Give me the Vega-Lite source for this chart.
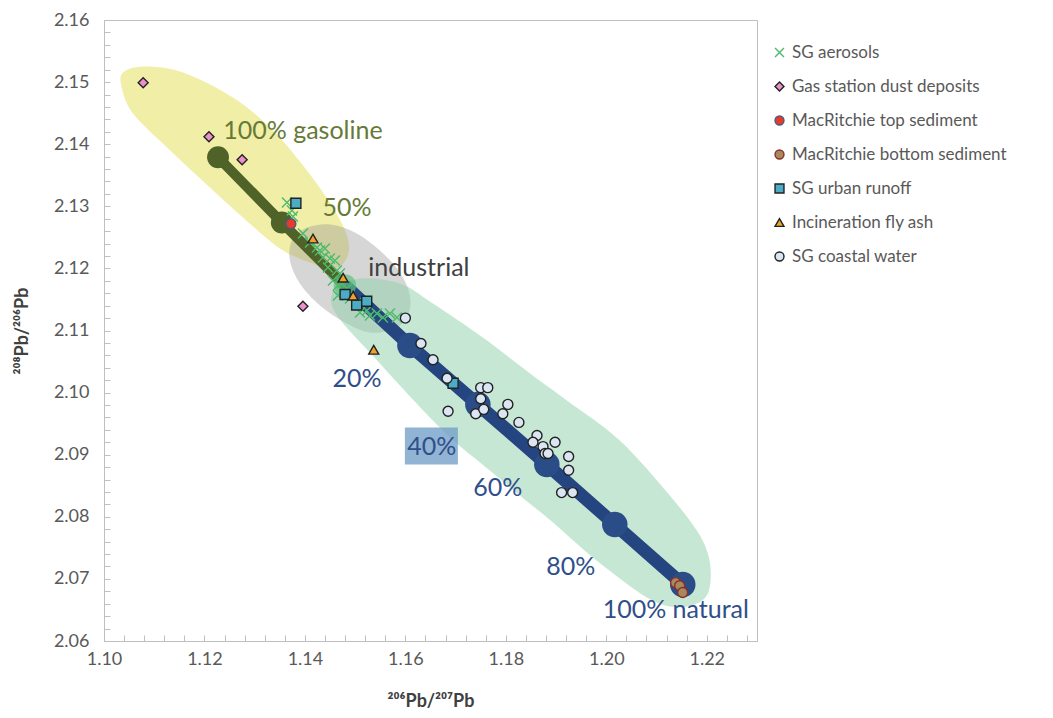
{
  "$schema": "https://vega.github.io/schema/vega-lite/v6.json",
  "width": 653,
  "height": 621,
  "autosize": {"type": "none"},
  "padding": {"left": 104, "top": 20, "right": 296, "bottom": 77},
  "background": "white",
  "config": {
    "view": {"stroke": "#BFBFBF", "strokeWidth": 1},
    "font": "Lato",
    "axis": {"grid": false, "domainColor": "#BFBFBF", "tickColor": "#BFBFBF", "labelColor": "#595959", "labelFont": "Lato", "labelFontSize": 18, "titleFont": "Lato", "titleFontWeight": "bold", "titleColor": "#404040", "titleFontSize": 18}
  },
  "datasets": {
    "poly": [
      {"shape": "gasoline", "o": 1, "x": 1.10378, "y": 2.15155},
      {"shape": "gasoline", "o": 2, "x": 1.10816, "y": 2.15251},
      {"shape": "gasoline", "o": 3, "x": 1.11572, "y": 2.15155},
      {"shape": "gasoline", "o": 4, "x": 1.12567, "y": 2.14752},
      {"shape": "gasoline", "o": 5, "x": 1.13363, "y": 2.14221},
      {"shape": "gasoline", "o": 6, "x": 1.1404, "y": 2.13577},
      {"shape": "gasoline", "o": 7, "x": 1.14557, "y": 2.12981},
      {"shape": "gasoline", "o": 8, "x": 1.14836, "y": 2.1253},
      {"shape": "gasoline", "o": 9, "x": 1.14856, "y": 2.12208},
      {"shape": "gasoline", "o": 10, "x": 1.14597, "y": 2.11998},
      {"shape": "gasoline", "o": 11, "x": 1.141, "y": 2.12095},
      {"shape": "gasoline", "o": 12, "x": 1.13502, "y": 2.1232},
      {"shape": "gasoline", "o": 13, "x": 1.12766, "y": 2.1282},
      {"shape": "gasoline", "o": 14, "x": 1.12109, "y": 2.13303},
      {"shape": "gasoline", "o": 15, "x": 1.11254, "y": 2.13947},
      {"shape": "gasoline", "o": 16, "x": 1.10577, "y": 2.14494},
      {"shape": "gasoline", "o": 17, "x": 1.10358, "y": 2.14897},
      {"shape": "industrial", "o": 1, "x": 1.13741, "y": 2.12449},
      {"shape": "industrial", "o": 2, "x": 1.14, "y": 2.12643},
      {"shape": "industrial", "o": 3, "x": 1.14498, "y": 2.12707},
      {"shape": "industrial", "o": 4, "x": 1.14995, "y": 2.12578},
      {"shape": "industrial", "o": 5, "x": 1.15493, "y": 2.12288},
      {"shape": "industrial", "o": 6, "x": 1.15891, "y": 2.11934},
      {"shape": "industrial", "o": 7, "x": 1.1609, "y": 2.11564},
      {"shape": "industrial", "o": 8, "x": 1.1605, "y": 2.11242},
      {"shape": "industrial", "o": 9, "x": 1.15791, "y": 2.11032},
      {"shape": "industrial", "o": 10, "x": 1.15294, "y": 2.10968},
      {"shape": "industrial", "o": 11, "x": 1.14796, "y": 2.11129},
      {"shape": "industrial", "o": 12, "x": 1.14299, "y": 2.11403},
      {"shape": "industrial", "o": 13, "x": 1.139, "y": 2.11757},
      {"shape": "industrial", "o": 14, "x": 1.13701, "y": 2.12127},
      {"shape": "natural", "o": 1, "x": 1.14597, "y": 2.11644},
      {"shape": "natural", "o": 2, "x": 1.15095, "y": 2.11837},
      {"shape": "natural", "o": 3, "x": 1.15891, "y": 2.11757},
      {"shape": "natural", "o": 4, "x": 1.16547, "y": 2.11435},
      {"shape": "natural", "o": 5, "x": 1.17542, "y": 2.10887},
      {"shape": "natural", "o": 6, "x": 1.18537, "y": 2.10275},
      {"shape": "natural", "o": 7, "x": 1.19214, "y": 2.09873},
      {"shape": "natural", "o": 8, "x": 1.20269, "y": 2.09229},
      {"shape": "natural", "o": 9, "x": 1.21264, "y": 2.08343},
      {"shape": "natural", "o": 10, "x": 1.21801, "y": 2.07779},
      {"shape": "natural", "o": 11, "x": 1.2202, "y": 2.07412},
      {"shape": "natural", "o": 12, "x": 1.2208, "y": 2.07055},
      {"shape": "natural", "o": 13, "x": 1.22, "y": 2.06732},
      {"shape": "natural", "o": 14, "x": 1.21701, "y": 2.06572},
      {"shape": "natural", "o": 15, "x": 1.21264, "y": 2.06556},
      {"shape": "natural", "o": 16, "x": 1.20806, "y": 2.06701},
      {"shape": "natural", "o": 17, "x": 1.20269, "y": 2.07006},
      {"shape": "natural", "o": 18, "x": 1.19612, "y": 2.07425},
      {"shape": "natural", "o": 19, "x": 1.18935, "y": 2.07911},
      {"shape": "natural", "o": 20, "x": 1.18279, "y": 2.08343},
      {"shape": "natural", "o": 21, "x": 1.17682, "y": 2.08746},
      {"shape": "natural", "o": 22, "x": 1.17025, "y": 2.0918},
      {"shape": "natural", "o": 23, "x": 1.16547, "y": 2.09551},
      {"shape": "natural", "o": 24, "x": 1.15891, "y": 2.10114},
      {"shape": "natural", "o": 25, "x": 1.15294, "y": 2.10646},
      {"shape": "natural", "o": 26, "x": 1.14796, "y": 2.11081},
      {"shape": "natural", "o": 27, "x": 1.14537, "y": 2.11403}
    ],
    "mix": [
      {"line": "gasoline", "o": 1, "x": 1.1227, "y": 2.1379},
      {"line": "gasoline", "o": 2, "x": 1.1354, "y": 2.1274},
      {"line": "gasoline", "o": 3, "x": 1.14796, "y": 2.11725},
      {"line": "natural", "o": 1, "x": 1.14796, "y": 2.11725},
      {"line": "natural", "o": 2, "x": 1.1609, "y": 2.10758},
      {"line": "natural", "o": 3, "x": 1.17443, "y": 2.09808},
      {"line": "natural", "o": 4, "x": 1.18816, "y": 2.08842},
      {"line": "natural", "o": 5, "x": 1.20169, "y": 2.07876},
      {"line": "natural", "o": 6, "x": 1.21522, "y": 2.0691}
    ],
    "samples": [
      {"series": "SG aerosols", "x": 1.13642, "y": 2.13061},
      {"series": "SG aerosols", "x": 1.13741, "y": 2.12932},
      {"series": "SG aerosols", "x": 1.13761, "y": 2.12836},
      {"series": "SG aerosols", "x": 1.1396, "y": 2.12562},
      {"series": "SG aerosols", "x": 1.141, "y": 2.12417},
      {"series": "SG aerosols", "x": 1.14239, "y": 2.12337},
      {"series": "SG aerosols", "x": 1.14299, "y": 2.12288},
      {"series": "SG aerosols", "x": 1.14398, "y": 2.1232},
      {"series": "SG aerosols", "x": 1.14358, "y": 2.12176},
      {"series": "SG aerosols", "x": 1.14498, "y": 2.12159},
      {"series": "SG aerosols", "x": 1.14597, "y": 2.12127},
      {"series": "SG aerosols", "x": 1.14458, "y": 2.12014},
      {"series": "SG aerosols", "x": 1.14637, "y": 2.11966},
      {"series": "SG aerosols", "x": 1.14697, "y": 2.11918},
      {"series": "SG aerosols", "x": 1.14557, "y": 2.11805},
      {"series": "SG aerosols", "x": 1.14657, "y": 2.11725},
      {"series": "SG aerosols", "x": 1.14736, "y": 2.11757},
      {"series": "SG aerosols", "x": 1.14836, "y": 2.11676},
      {"series": "SG aerosols", "x": 1.14657, "y": 2.11563},
      {"series": "SG aerosols", "x": 1.14896, "y": 2.11515},
      {"series": "SG aerosols", "x": 1.15035, "y": 2.11451},
      {"series": "SG aerosols", "x": 1.15095, "y": 2.1129},
      {"series": "SG aerosols", "x": 1.15234, "y": 2.11322},
      {"series": "SG aerosols", "x": 1.15294, "y": 2.1124},
      {"series": "SG aerosols", "x": 1.15433, "y": 2.11273},
      {"series": "SG aerosols", "x": 1.15552, "y": 2.11208},
      {"series": "SG aerosols", "x": 1.15692, "y": 2.11273},
      {"series": "SG aerosols", "x": 1.15831, "y": 2.11208},
      {"series": "Gas station dust deposits", "x": 1.1078, "y": 2.1499},
      {"series": "Gas station dust deposits", "x": 1.1209, "y": 2.1412},
      {"series": "Gas station dust deposits", "x": 1.1275, "y": 2.1375},
      {"series": "Gas station dust deposits", "x": 1.1396, "y": 2.1139},
      {"series": "MacRitchie top sediment", "x": 1.1372, "y": 2.1272},
      {"series": "MacRitchie bottom sediment", "x": 1.2138, "y": 2.0694},
      {"series": "MacRitchie bottom sediment", "x": 1.2146, "y": 2.0689},
      {"series": "MacRitchie bottom sediment", "x": 1.2152, "y": 2.0678},
      {"series": "SG urban runoff", "x": 1.1382, "y": 2.1305},
      {"series": "SG urban runoff", "x": 1.148, "y": 2.1158},
      {"series": "SG urban runoff", "x": 1.1503, "y": 2.1141},
      {"series": "SG urban runoff", "x": 1.1523, "y": 2.1147},
      {"series": "SG urban runoff", "x": 1.1695, "y": 2.1015},
      {"series": "Incineration fly ash", "x": 1.1416, "y": 2.1248},
      {"series": "Incineration fly ash", "x": 1.1476, "y": 2.1185},
      {"series": "Incineration fly ash", "x": 1.1496, "y": 2.1156},
      {"series": "Incineration fly ash", "x": 1.1537, "y": 2.1069},
      {"series": "SG coastal water", "x": 1.16, "y": 2.112},
      {"series": "SG coastal water", "x": 1.1631, "y": 2.1079},
      {"series": "SG coastal water", "x": 1.1655, "y": 2.1053},
      {"series": "SG coastal water", "x": 1.1683, "y": 2.1023},
      {"series": "SG coastal water", "x": 1.1685, "y": 2.097},
      {"series": "SG coastal water", "x": 1.175, "y": 2.1008},
      {"series": "SG coastal water", "x": 1.1764, "y": 2.1008},
      {"series": "SG coastal water", "x": 1.175, "y": 2.099},
      {"series": "SG coastal water", "x": 1.174, "y": 2.0966},
      {"series": "SG coastal water", "x": 1.1756, "y": 2.0973},
      {"series": "SG coastal water", "x": 1.1794, "y": 2.0966},
      {"series": "SG coastal water", "x": 1.1804, "y": 2.0981},
      {"series": "SG coastal water", "x": 1.1826, "y": 2.0952},
      {"series": "SG coastal water", "x": 1.1862, "y": 2.0931},
      {"series": "SG coastal water", "x": 1.1854, "y": 2.092},
      {"series": "SG coastal water", "x": 1.1874, "y": 2.0913},
      {"series": "SG coastal water", "x": 1.1898, "y": 2.092},
      {"series": "SG coastal water", "x": 1.1878, "y": 2.0902},
      {"series": "SG coastal water", "x": 1.1884, "y": 2.0902},
      {"series": "SG coastal water", "x": 1.1925, "y": 2.0897},
      {"series": "SG coastal water", "x": 1.1925, "y": 2.0875},
      {"series": "SG coastal water", "x": 1.1911, "y": 2.0839},
      {"series": "SG coastal water", "x": 1.1933, "y": 2.0839}
    ],
    "labels": [
      {"text": "100% gasoline", "group": "g", "x": 1.1396, "y": 2.14205},
      {"text": "50%", "group": "g", "x": 1.14836, "y": 2.12965},
      {"text": "industrial", "group": "i", "x": 1.16269, "y": 2.12014},
      {"text": "20%", "group": "n", "x": 1.15035, "y": 2.10227},
      {"text": "40%", "group": "n", "x": 1.16527, "y": 2.09132},
      {"text": "60%", "group": "n", "x": 1.17841, "y": 2.08464},
      {"text": "80%", "group": "n", "x": 1.19294, "y": 2.07192},
      {"text": "100% natural", "group": "n", "x": 1.21383, "y": 2.06507}
    ],
    "box": [
      {"x": 1.1599, "x2": 1.17045, "y": 2.09438, "y2": 2.08842}
    ]
  },
  "resolve": {"axis": {"x": "independent", "y": "independent"}},
  "layer": [
    {
      "data": {"name": "box"},
      "mark": {"type": "point", "opacity": 0},
      "encoding": {
        "x": {"field": "x", "type": "quantitative", "scale": {"domain": [1.1, 1.23], "nice": false, "zero": false},
          "axis": {"orient": "bottom", "title": null, "labels": false, "domain": false, "tickSize": -6,
            "values": [1.104, 1.108, 1.112, 1.116, 1.124, 1.128, 1.132, 1.136, 1.144, 1.148, 1.152, 1.156, 1.164, 1.168, 1.172, 1.176, 1.184, 1.188, 1.192, 1.196, 1.204, 1.208, 1.212, 1.216, 1.224, 1.228]}},
        "y": {"field": "y", "type": "quantitative", "scale": {"domain": [2.06, 2.16], "nice": false, "zero": false},
          "axis": {"orient": "left", "title": null, "labels": false, "domain": false, "tickSize": -6,
            "values": [2.062, 2.064, 2.066, 2.068, 2.072, 2.074, 2.076, 2.078, 2.082, 2.084, 2.086, 2.088, 2.092, 2.094, 2.096, 2.098, 2.102, 2.104, 2.106, 2.108, 2.112, 2.114, 2.116, 2.118, 2.122, 2.124, 2.126, 2.128, 2.132, 2.134, 2.136, 2.138, 2.142, 2.144, 2.146, 2.148, 2.152, 2.154, 2.156, 2.158]}}
      }
    },
    {
      "encoding": {
        "x": {"type": "quantitative"},
        "y": {"type": "quantitative"}
      },
      "layer": [
        {
          "data": {"name": "poly"},
          "transform": [{"filter": "datum.shape == 'gasoline'"}],
          "mark": {"type": "line", "interpolate": "cardinal-closed", "fill": "#EFEB98", "fillOpacity": 0.85, "strokeWidth": 0},
          "encoding": {
            "x": {"field": "x", "type": "quantitative",
              "axis": {"orient": "bottom", "title": "²⁰⁶Pb/²⁰⁷Pb", "values": [1.1, 1.12, 1.14, 1.16, 1.18, 1.2, 1.22], "format": ".2f",
                "tickSize": -6, "labelPadding": 15, "titlePadding": 24, "labelFlush": false, "labelOverlap": false}},
            "y": {"field": "y", "type": "quantitative",
              "axis": {"orient": "left", "title": "²⁰⁸Pb/²⁰⁶Pb", "values": [2.06, 2.07, 2.08, 2.09, 2.1, 2.11, 2.12, 2.13, 2.14, 2.15, 2.16], "format": ".2f",
                "tickSize": -6, "labelPadding": 21, "titlePadding": 22, "labelFlush": false, "labelOverlap": false}},
            "order": {"field": "o", "type": "quantitative"}
          }
        },
        {
          "data": {"name": "poly"},
          "transform": [{"filter": "datum.shape == 'industrial'"}],
          "mark": {"type": "line", "interpolate": "cardinal-closed", "fill": "#999999", "fillOpacity": 0.4, "strokeWidth": 0},
          "encoding": {"x": {"field": "x"}, "y": {"field": "y"}, "order": {"field": "o", "type": "quantitative"}}
        },
        {
          "data": {"name": "poly"},
          "transform": [{"filter": "datum.shape == 'natural'"}],
          "mark": {"type": "line", "interpolate": "cardinal-closed", "fill": "#8FD0AB", "fillOpacity": 0.5, "strokeWidth": 0},
          "encoding": {"x": {"field": "x"}, "y": {"field": "y"}, "order": {"field": "o", "type": "quantitative"}}
        },
        {
          "data": {"name": "box"},
          "mark": {"type": "rect", "fill": "#6E9BC5", "opacity": 0.75},
          "encoding": {"x": {"field": "x"}, "x2": {"field": "x2"}, "y": {"field": "y"}, "y2": {"field": "y2"}}
        },
        {
          "data": {"name": "mix"},
          "transform": [{"filter": "datum.line == 'gasoline'"}],
          "mark": {"type": "line", "color": "#4F6228", "strokeWidth": 10},
          "encoding": {"x": {"field": "x"}, "y": {"field": "y"}, "order": {"field": "o", "type": "quantitative"}}
        },
        {
          "data": {"name": "mix"},
          "transform": [{"filter": "datum.line == 'gasoline' && datum.o < 3"}],
          "mark": {"type": "circle", "color": "#4F6228", "opacity": 1, "size": 480},
          "encoding": {"x": {"field": "x"}, "y": {"field": "y"}}
        },
        {
          "data": {"name": "mix"},
          "transform": [{"filter": "datum.line == 'natural'"}],
          "mark": {"type": "line", "color": "#24457F", "strokeWidth": 13},
          "encoding": {"x": {"field": "x"}, "y": {"field": "y"}, "order": {"field": "o", "type": "quantitative"}}
        },
        {
          "data": {"name": "mix"},
          "transform": [{"filter": "datum.line == 'natural' && datum.o > 1"}],
          "mark": {"type": "circle", "color": "#2A4C87", "opacity": 1, "size": 650},
          "encoding": {"x": {"field": "x"}, "y": {"field": "y"}}
        },
        {
          "data": {"name": "mix"},
          "transform": [{"filter": "datum.line == 'natural' && datum.o == 1"}],
          "mark": {"type": "circle", "color": "#5CC080", "opacity": 0.7, "size": 500},
          "encoding": {"x": {"field": "x"}, "y": {"field": "y"}}
        },
        {
          "data": {"name": "samples"},
          "mark": {"type": "point", "filled": false, "strokeWidth": 1.4, "size": 100, "opacity": 1},
          "encoding": {
            "x": {"field": "x"},
            "y": {"field": "y"},
            "shape": {"field": "series", "type": "nominal",
              "scale": {"domain": ["SG aerosols", "Gas station dust deposits", "MacRitchie top sediment", "MacRitchie bottom sediment", "SG urban runoff", "Incineration fly ash", "SG coastal water"],
                "range": ["M-1,-1L1,1M-1,1L1,-1", "diamond", "circle", "circle", "square", "triangle-up", "circle"]},
              "legend": {"title": null, "orient": "none", "legendX": 667, "legendY": 24, "labelFont": "Lato", "labelFontSize": 17, "labelColor": "#595959", "rowPadding": 16, "symbolSize": 80, "labelOffset": 4, "symbolStrokeWidth": 1.4, "labelLimit": 0}},
            "fill": {"field": "series", "type": "nominal",
              "scale": {"domain": ["SG aerosols", "Gas station dust deposits", "MacRitchie top sediment", "MacRitchie bottom sediment", "SG urban runoff", "Incineration fly ash", "SG coastal water"],
                "range": ["transparent", "#E991C8", "#E8392B", "#A68A5B", "#4BACC6", "#F0A12B", "#DCE6F2"]},
              "legend": {"title": null, "orient": "none", "legendX": 667, "legendY": 24, "labelFont": "Lato", "labelFontSize": 17, "labelColor": "#595959", "rowPadding": 16, "symbolSize": 80, "labelOffset": 4, "symbolStrokeWidth": 1.4, "labelLimit": 0}},
            "stroke": {"field": "series", "type": "nominal",
              "scale": {"domain": ["SG aerosols", "Gas station dust deposits", "MacRitchie top sediment", "MacRitchie bottom sediment", "SG urban runoff", "Incineration fly ash", "SG coastal water"],
                "range": ["#4DBB6D", "#222222", "#4A5A7A", "#8B2E2E", "#222222", "#222222", "#222222"]},
              "legend": {"title": null, "orient": "none", "legendX": 667, "legendY": 24, "labelFont": "Lato", "labelFontSize": 17, "labelColor": "#595959", "rowPadding": 16, "symbolSize": 80, "labelOffset": 4, "symbolStrokeWidth": 1.4, "labelLimit": 0}}
          }
        },
        {
          "data": {"name": "labels"},
          "mark": {"type": "text", "font": "Lato", "fontSize": 25, "align": "center", "baseline": "middle"},
          "encoding": {
            "x": {"field": "x"},
            "y": {"field": "y"},
            "text": {"field": "text", "type": "nominal"},
            "color": {"field": "group", "type": "nominal", "scale": {"domain": ["g", "i", "n"], "range": ["#667A36", "#404040", "#2F4F8A"]}, "legend": null}
          }
        }
      ]
    }
  ]
}
